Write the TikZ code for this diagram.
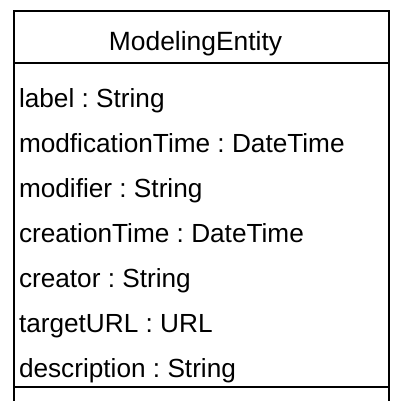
\documentclass[tikz,border=0pt]{standalone}
\usepackage{fontspec}
\setmainfont{Liberation Sans}
\frenchspacing
\begin{document}
\begin{tikzpicture}[x=1pt,y=-1pt,
  attr/.style={anchor=base west,inner sep=0pt,outer sep=0pt,font=\fontsize{26.2}{30}\selectfont},
  title/.style={anchor=base,inner sep=0pt,font=\fontsize{26.4}{30}\selectfont},
  frame/.style={line width=2.2pt,black}]
\useasboundingbox (0,0) rectangle (395,401);
\coordinate (tl) at (14,10.8);
\coordinate (tr) at (389.3,10.8);
\coordinate (bl) at (14,403);
\coordinate (br) at (389.3,403);
\coordinate (h1) at (14,63.3);
\coordinate (h2) at (389.3,63.3);
\coordinate (s1) at (14,386.7);
\coordinate (s2) at (389.3,386.7);
\draw[frame] (bl) -- (tl) -- (tr) -- (br);
\draw[frame] (h1) -- (h2);
\draw[frame] (s1) -- (s2);
\node[title] (name) at (195.5,50.7) {ModelingEntity};
\node[attr] (a1) at (19,107.2) {label : String};
\node[attr] (a2) at (19,152.3) {modficationTime : DateTime};
\node[attr] (a3) at (19,197.4) {modifier : String};
\node[attr] (a4) at (19,242.5) {creationTime : DateTime};
\node[attr] (a5) at (19,287.6) {creator : String};
\node[attr] (a6) at (19,332.7) {targetURL : URL};
\node[attr] (a7) at (19,377.8) {description : String};
\end{tikzpicture}
\end{document}
